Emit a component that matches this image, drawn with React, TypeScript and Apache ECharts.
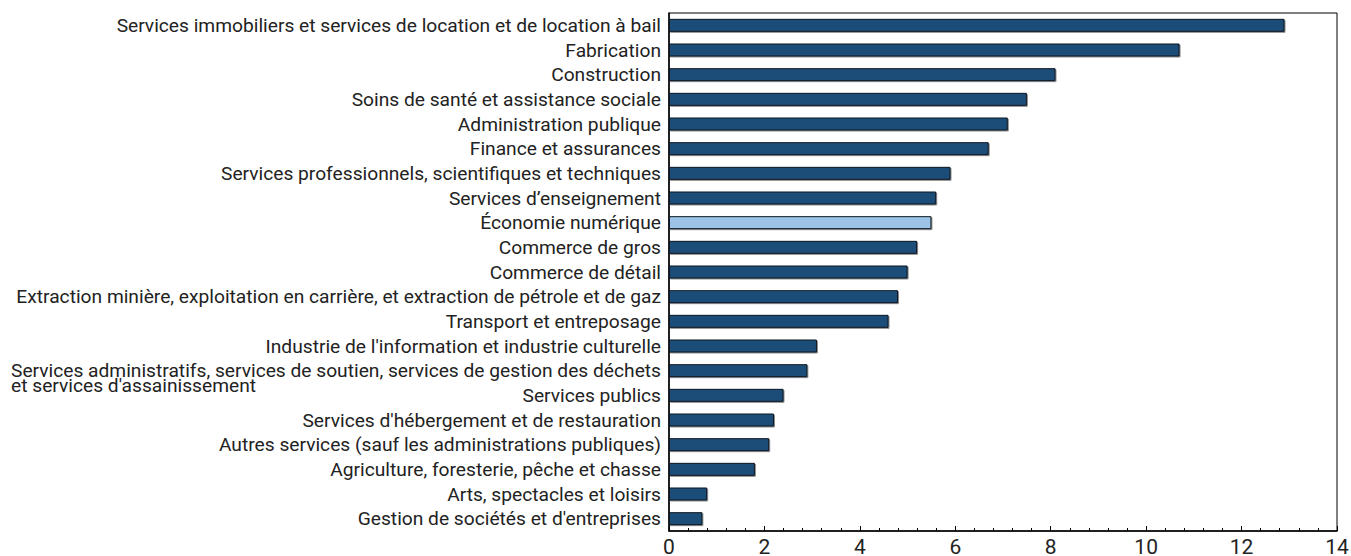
import React, { useEffect, useRef } from "react";
import * as echarts from "echarts";

const categories: string[] = [
  "Services immobiliers et services de location et de location à bail",
  "Fabrication",
  "Construction",
  "Soins de santé et assistance sociale",
  "Administration publique",
  "Finance et assurances",
  "Services professionnels, scientifiques et techniques",
  "Services d’enseignement",
  "Économie numérique",
  "Commerce de gros",
  "Commerce de détail",
  "Extraction minière, exploitation en carrière, et extraction de pétrole et de gaz",
  "Transport et entreposage",
  "Industrie de l'information et industrie culturelle",
  "Services administratifs, services de soutien, services de gestion des déchets\net services d'assainissement",
  "Services publics",
  "Services d'hébergement et de restauration",
  "Autres services (sauf les administrations publiques)",
  "Agriculture, foresterie, pêche et chasse",
  "Arts, spectacles et loisirs",
  "Gestion de sociétés et d'entreprises",
];

const values: number[] = [
  12.9, 10.7, 8.1, 7.5, 7.1, 6.7, 5.9, 5.6, 5.5, 5.2, 5.0, 4.8, 4.6, 3.1, 2.9,
  2.4, 2.2, 2.1, 1.8, 0.8, 0.7,
];

const highlighted = "Économie numérique";

const xTicks = { min: 0, max: 14, interval: 2 };

const FONT = "Roboto, 'Liberation Sans', sans-serif";
const LABEL_SIZE = 19.2;
const WRAP_LH = 15;

export default function App() {
  const ref = useRef<HTMLDivElement>(null);

  useEffect(() => {
    if (!ref.current) return;
    const chart = echarts.init(ref.current, undefined, { renderer: "svg" });

    const catData = categories.map((c) => {
      if (c.includes("\n")) {
        return { value: c, textStyle: { padding: [WRAP_LH, 0, 0, 0] } };
      }
      return c;
    });

    chart.setOption({
      animation: false,
      grid: {
        left: 669,
        right: 14,
        top: 13,
        bottom: 25,
        containLabel: false,
        outerBoundsMode: "none",
        show: true,
        borderColor: "#000",
        borderWidth: 1,
        backgroundColor: "transparent",
      },
      xAxis: {
        type: "value",
        min: xTicks.min,
        max: xTicks.max,
        interval: xTicks.interval,
        axisLine: { show: true, lineStyle: { color: "#000", width: 1.5 } },
        axisTick: { show: true, inside: true, length: 5, lineStyle: { color: "#000" } },
        minorTick: { show: true, splitNumber: 5, length: 3, lineStyle: { color: "#000" } },
        splitLine: { show: false },
        axisLabel: {
          color: "#222",
          fontFamily: FONT,
          fontSize: 21,
          lineHeight: 20,
          margin: 6,
        },
      },
      yAxis: {
        type: "category",
        inverse: true,
        data: catData,
        axisLine: { show: true, lineStyle: { color: "#000", width: 1.5 } },
        axisTick: { show: false },
        axisLabel: {
          interval: 0,
          color: "#222",
          fontFamily: FONT,
          fontSize: LABEL_SIZE,
          margin: 8,
          lineHeight: WRAP_LH,
          formatter: (v: string) => {
            if (v.includes("\n")) {
              const [a, b] = v.split("\n");
              return `{a|${a}}\n{b|${b}}`;
            }
            return v;
          },
          rich: {
            a: { align: "right", fontFamily: FONT, fontSize: LABEL_SIZE, color: "#222", lineHeight: WRAP_LH },
            b: { align: "left", fontFamily: FONT, fontSize: LABEL_SIZE, color: "#222", lineHeight: WRAP_LH },
          },
        },
      },
      series: [
        {
          type: "bar",
          data: values.map((v, i) => ({
            value: v,
            itemStyle: {
              color: categories[i] === highlighted ? "#9dc3e6" : "#1f4e79",
            },
          })),
          barWidth: 13,
          itemStyle: {
            borderColor: "#0b1620",
            borderWidth: 1,
            shadowColor: "rgba(0,0,0,0.45)",
            shadowOffsetX: 1,
            shadowOffsetY: 1,
            shadowBlur: 1,
          },
        },
      ],
    });

    return () => chart.dispose();
  }, []);

  return (
    <div
      ref={ref}
      style={{ position: "absolute", left: 0, top: 0, width: 1351, height: 556 }}
    />
  );
}
